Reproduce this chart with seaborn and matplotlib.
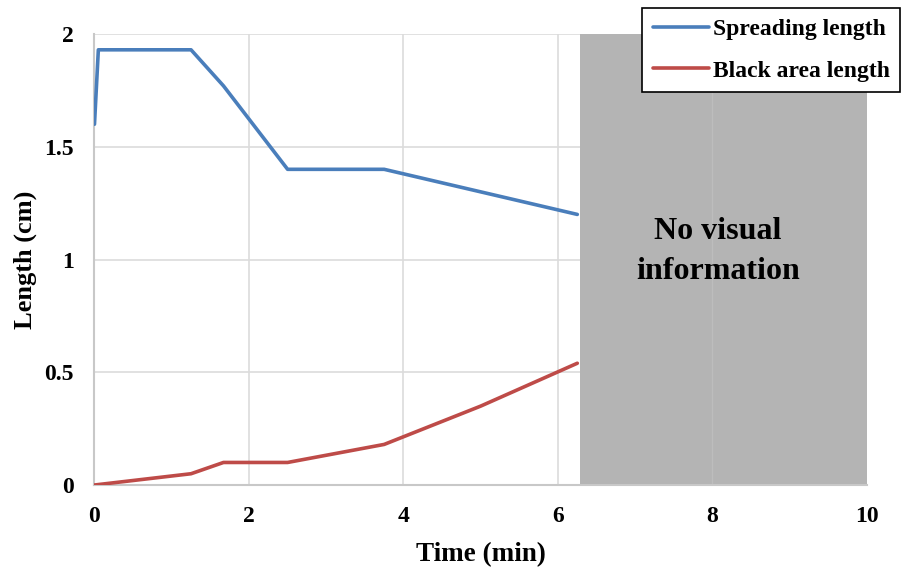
import matplotlib
matplotlib.use("Agg")
import matplotlib.pyplot as plt
import seaborn as sns
import pandas as pd
from matplotlib.lines import Line2D

time_spread = [0, 0.05, 1.25, 1.67, 2.5, 3.75, 6.25]
spread_len = [1.6, 1.93, 1.93, 1.77, 1.40, 1.40, 1.20]
time_black = [0, 1.25, 1.67, 2.5, 3.75, 5.0, 6.25]
black_len = [0, 0.05, 0.10, 0.10, 0.18, 0.35, 0.54]
no_info_start = 6.28
no_info_end = 10
x_ticks = [0, 2, 4, 6, 8, 10]
y_ticks = [0, 0.5, 1, 1.5, 2]
y_tick_labels = ["0", "0.5", "1", "1.5", "2"]

sns.set_style("white")
plt.rcParams['font.family'] = ['Liberation Serif', 'DejaVu Serif']
plt.rcParams['font.weight'] = 'bold'
plt.rcParams['text.color'] = 'black'
plt.rcParams['xtick.color'] = 'black'
plt.rcParams['ytick.color'] = 'black'
plt.rcParams['axes.labelcolor'] = 'black'

df = pd.concat([
    pd.DataFrame({"Time": time_spread, "Length": spread_len, "Series": "Spreading length"}),
    pd.DataFrame({"Time": time_black, "Length": black_len, "Series": "Black area length"}),
])

fig = plt.figure(figsize=(9.05, 5.67), dpi=100)
ax = fig.add_axes([0.1044, 0.1446, 0.958 - 0.1044, 0.940 - 0.1446])

ax.axvspan(no_info_start, no_info_end, ymin=0, ymax=1, color="#b4b4b4", zorder=1, lw=0)
for x in x_ticks[1:-1]:
    ax.axvline(x, color="#dcdcdc", lw=1.2, zorder=0.5)
ax.axvline(8, color="#bdbdbd", lw=1.0, zorder=1.5)
for y in y_ticks[1:]:
    ax.axhline(y, color="#dcdcdc", lw=1.2, zorder=0.5)

sns.lineplot(data=df, x="Time", y="Length", hue="Series", sort=False,
             palette={"Spreading length": "#4a7ebb", "Black area length": "#be4b48"},
             lw=2.6, ax=ax, zorder=3, legend=False)

ax.text(8.07, 1.035, "No visual\ninformation", ha="center", va="center",
        fontsize=23, fontweight="bold", linespacing=1.48, zorder=4, color="black")

ax.set_xlim(0, 10)
ax.set_ylim(0, 2)
ax.set_xticks(x_ticks)
ax.set_xticklabels([str(t) for t in x_ticks], fontsize=17, fontweight="bold")
ax.set_yticks(y_ticks)
ax.set_yticklabels(y_tick_labels, fontsize=17, fontweight="bold")
ax.tick_params(axis="x", length=0, pad=15)
ax.tick_params(axis="y", length=0, pad=15)
ax.set_xlabel("Time (min)", fontsize=19.5, fontweight="bold", labelpad=11)
ax.set_ylabel("Length (cm)", fontsize=19, fontweight="bold", labelpad=5)

for s in ["top", "right"]:
    ax.spines[s].set_visible(False)
for s in ["left", "bottom"]:
    ax.spines[s].set_color("#c8c8c8")
    ax.spines[s].set_linewidth(1.5)

handles = [Line2D([], [], color="#4a7ebb", lw=2.6), Line2D([], [], color="#be4b48", lw=2.6)]
leg = fig.legend(handles, ["Spreading length", "Black area length"],
                 loc="upper right", bbox_to_anchor=(0.995, 0.986),
                 prop={"family": "Liberation Serif", "weight": "bold", "size": 17},
                 frameon=True, fancybox=False, edgecolor="black", framealpha=1,
                 handlelength=2.4, handletextpad=0.15, borderpad=0.45, labelspacing=0.85,
                 borderaxespad=0)
leg.get_frame().set_linewidth(1.2)

fig.savefig("out.png", dpi=100)
